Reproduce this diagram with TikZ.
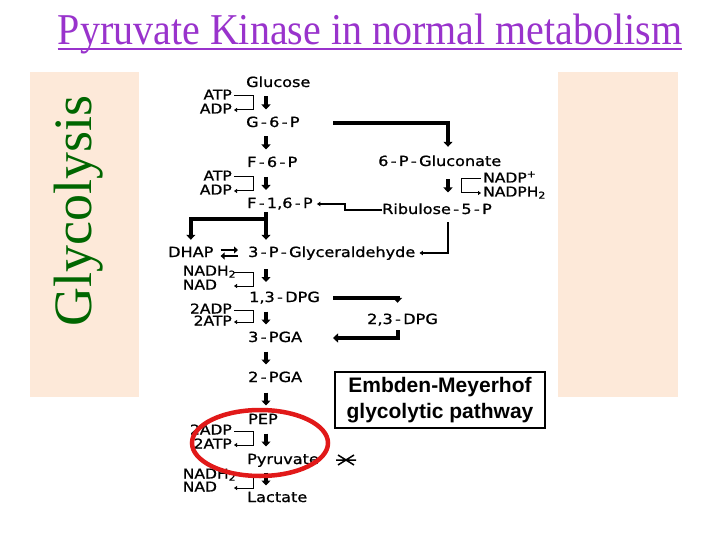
\documentclass[tikz,border=0pt]{standalone}
\usepackage{fontspec}
\setmainfont{Liberation Serif}
\newfontfamily\pixfont{DejaVu Sans}[FakeStretch=1.15, FakeBold=1]
\newfontfamily\boxfont{Liberation Sans}
\usetikzlibrary{arrows.meta,calc}
\definecolor{peach}{RGB}{253,233,217}
\definecolor{titlepurple}{RGB}{153,51,204}
\definecolor{glygreen}{RGB}{0,102,0}
\definecolor{ringred}{RGB}{225,25,25}
\tikzset{
  met/.style={anchor=west, inner sep=0pt, text height=11pt, text depth=3pt, font=\pixfont\fontsize{14}{16}\selectfont},
  cof/.style={anchor=east, inner sep=0pt, text width=49pt, text height=9pt, text depth=2pt, font=\pixfont\fontsize{13.5}{14}\selectfont},
  fat/.style={line width=4pt, -{Triangle[length=5pt,width=9pt]}},
  dbl/.style={line width=2.5pt, -{Triangle[length=4pt,width=7pt]}},
  hook/.style={line width=1pt, shorten <=2pt, shorten >=2pt, -{Triangle[length=3pt,width=4pt]}},
  thinarrow/.style={line width=1.2pt, -{Triangle[length=3.5pt,width=4.5pt]}},
}
\newcommand{\stepdown}[3]{%
  \coordinate (mid) at ($(#1.center)!0.5!(#2.center)$);
  \draw[fat] (#3 |- mid) ++(0,-6.5) -- ++(0,13);}

\begin{document}
\begin{tikzpicture}[x=1pt,y=-1pt]
		\useasboundingbox (0,0) rectangle (720,540);
		% Backgrounds and headings:
		\fill[peach] (30,72) rectangle (139,397);
		\fill[peach] (558,72) rectangle (678,397);
		\node[anchor=base, inner sep=0pt, text=titlepurple, font=\fontsize{40}{44}\selectfont] (title) at (370,45) {\scalebox{1}[1.1]{Pyruvate Kinase in normal metabolism}};
		\draw[titlepurple, line width=2pt] ([yshift=-4pt]title.base west) -- ([yshift=-4pt]title.base east);
		\node[anchor=base, rotate=90, inner sep=0pt, text=glygreen, font=\fontsize{54}{60}\selectfont] (side) at (91,211) {Glycolysis};
		% Metabolites:
		\coordinate (col) at (266,0);
		\coordinate (pcol) at (448,0);
		\coordinate (rgap) at (333,0);
		\node[met] (glc) at (246,83) {Glucose};
		\node[met] (g6p) at (246,123) {G\,-\,6\,-\,P};
		\node[met] (f6p) at (247,163) {F\,-\,6\,-\,P};
		\node[met] (f16p) at (247,204) {F\,-\,1,6\,-\,P};
		\node[met] (gap) at (248,253) {3\,-\,P\,-\,Glyceraldehyde};
		\node[met] (dhap) at (168,253) {DHAP};
		\node[met] (dpg13) at (249,298) {1,3\,-\,DPG};
		\node[met] (pga3) at (248,338) {3\,-\,PGA};
		\node[met] (pga2) at (248,378) {2\,-\,PGA};
		\node[met] (pep) at (248,420) {PEP};
		\node[met] (pyr) at (247,460) {Pyruvate};
		\node[met] (lac) at (247,498) {Lactate};
		\node[met] (gluc) at (378,162) {6\,-\,P\,-\,Gluconate};
		\node[met] (ru5p) at (382,210) {Ribulose\,-\,5\,-\,P};
		\node[met] (dpg23) at (367,320) {2,3\,-\,DPG};
		% Cofactors:
		\node[cof, align=right] (atp1) at (232,96) {ATP};
		\node[cof, align=right] (adp1) at (232,110) {ADP};
		\node[cof, align=right] (atp2) at (232,177) {ATP};
		\node[cof, align=right] (adp2) at (232,191) {ADP};
		\node[cof, align=left] (nadh1) at (232,272) {NADH\textsubscript{2}};
		\node[cof, align=left] (nad1) at (232,286) {NAD};
		\node[cof, align=right] (adp3) at (232,310) {2ADP};
		\node[cof, align=right] (atp3) at (232,322) {2ATP};
		\node[cof, align=right] (adp4) at (232,431) {2ADP};
		\node[cof, align=right] (atp4) at (232,445) {2ATP};
		\node[cof, align=left] (nadh2) at (232,475) {NADH\textsubscript{2}};
		\node[cof, align=left] (nad2) at (232,488) {NAD};
		\node[cof, anchor=west, align=left] (nadp) at (483,179) {NADP\textsuperscript{+}};
		\node[cof, anchor=west, align=left] (nadph) at (483,193) {NADPH\textsubscript{2}};
		% Main steps:
		\stepdown{glc}{g6p}{col}
		\stepdown{g6p}{f6p}{col}
		\stepdown{f6p}{f16p}{col}
		\stepdown{gap}{dpg13}{col}
		\stepdown{dpg13}{pga3}{col}
		\stepdown{pga3}{pga2}{col}
		\stepdown{pga2}{pep}{col}
		\stepdown{pep}{pyr}{col}
		\stepdown{pyr}{lac}{col}
		\stepdown{gluc}{ru5p}{pcol}
		\draw[fat, shorten <=1pt, shorten >=6pt] (f16p.south -| col) -- (gap.north -| col);
		\coordinate (split) at (268,219);
		\draw[fat, shorten >=6pt] (split) -| (dhap.north);
		\draw[dbl, shorten <=7pt, shorten >=10pt] ([yshift=3pt]dhap.east) -- ([yshift=3pt]gap.west);
		\draw[dbl, shorten <=10pt, shorten >=7pt] ([yshift=-3pt]gap.west) -- ([yshift=-3pt]dhap.east);
		% Side branches:
		\draw[fat, shorten >=8pt] (g6p.east -| rgap) -| (gluc.north -| pcol);
		\draw[thinarrow, shorten >=4pt] (ru5p.west) -- ++(-37,0) |- (f16p.east);
		\draw[thinarrow, shorten <=5pt, shorten >=4pt] (ru5p.south -| pcol) |- (gap.east);
		\draw[fat, shorten >=10pt] (dpg13.east -| rgap) -| ([xshift=-5pt]dpg23.north);
		\draw[fat, shorten <=3pt] ([xshift=-5pt]dpg23.south) |- (pga3.east -| rgap);
		% Cofactor hooks:
		\draw[hook] (atp1.east) -- ++(21,0) |- (adp1.east);
		\draw[hook] (atp2.east) -- ++(21,0) |- (adp2.east);
		\draw[hook] (nadh1.east) -- ++(21,0) |- (nad1.east);
		\draw[hook] (adp3.east) -- ++(21,0) |- (atp3.east);
		\draw[hook] (adp4.east) -- ++(21,0) |- (atp4.east);
		\draw[hook] (nadh2.east) -- ++(21,0) |- (nad2.east);
		\draw[hook] (nadp.west) -- ++(-22,0) |- (nadph.west);
		% Label box, block sign and ring:
		\node[draw, line width=1.3pt, minimum width=210pt, minimum height=56pt, inner sep=0pt, align=center, font=\boxfont\bfseries\fontsize{21}{26}\selectfont] (emp) at (440,400) {Embden-Meyerhof\\glycolytic pathway};
		\coordinate (blk) at (346,460);
		\draw[line width=1.5pt] (blk) ++(-8,-5) -- ++(16,10) (blk) ++(-8,5) -- ++(16,-10) (blk) ++(-10,0) -- ++(20,0);
		\draw[ringred, line width=4.5pt] (260,443) ellipse [x radius=68pt, y radius=33pt];
	\end{tikzpicture}
\end{document}
